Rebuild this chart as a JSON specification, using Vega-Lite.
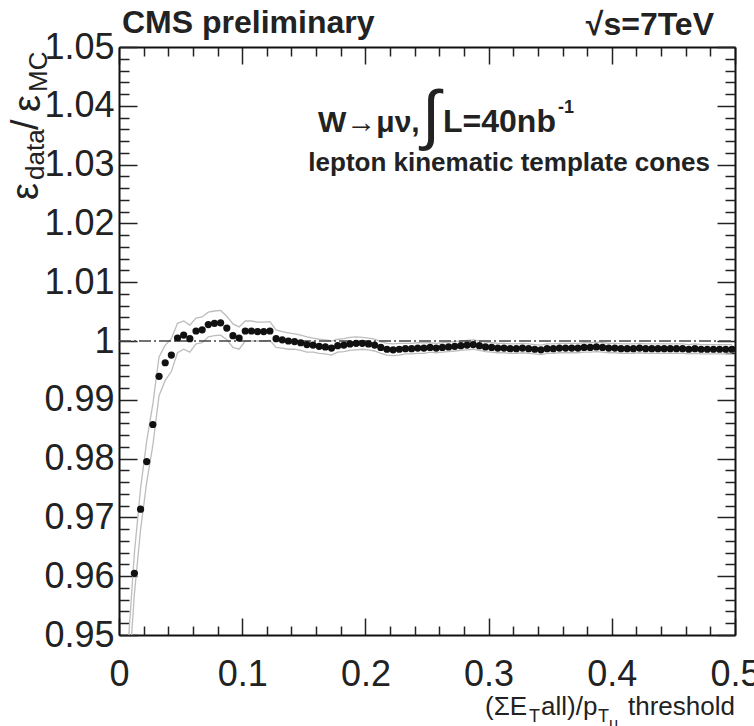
{
  "$schema": "https://vega.github.io/schema/vega-lite/v6.json",
  "width": 616,
  "height": 588,
  "autosize": {"type": "none"},
  "padding": {"left": 119, "top": 47, "right": 19, "bottom": 91},
  "background": "white",
  "config": {
    "view": {"stroke": null},
    "font": "Liberation Sans",
    "axis": {
      "grid": false,
      "title": null,
      "labelFont": "Liberation Sans",
      "labelFontSize": 36,
      "labelColor": "#222222",
      "tickColor": "#222222",
      "tickWidth": 1.5,
      "domainColor": "#111111",
      "domainWidth": 2,
      "labelBound": false,
      "labelFlush": false,
      "labelOverlap": false,
      "format": "~g"
    }
  },
  "datasets": {
    "pts": [
      {"x": 0.0075, "y": 0.9450, "lo": 0.9415, "hi": 0.9485},
      {"x": 0.0125, "y": 0.9605, "lo": 0.9570, "hi": 0.9640},
      {"x": 0.0175, "y": 0.9714, "lo": 0.9679, "hi": 0.9749},
      {"x": 0.0225, "y": 0.9795, "lo": 0.9760, "hi": 0.9830},
      {"x": 0.0275, "y": 0.9858, "lo": 0.9823, "hi": 0.9893},
      {"x": 0.0325, "y": 0.9940, "lo": 0.9907, "hi": 0.9973},
      {"x": 0.0375, "y": 0.9963, "lo": 0.9933, "hi": 0.9993},
      {"x": 0.0425, "y": 0.9976, "lo": 0.9948, "hi": 1.0004},
      {"x": 0.0475, "y": 1.0005, "lo": 0.9980, "hi": 1.0030},
      {"x": 0.0525, "y": 1.0010, "lo": 0.9986, "hi": 1.0034},
      {"x": 0.0575, "y": 1.0004, "lo": 0.9981, "hi": 1.0027},
      {"x": 0.0625, "y": 1.0017, "lo": 0.9995, "hi": 1.0039},
      {"x": 0.0675, "y": 1.0019, "lo": 0.9997, "hi": 1.0041},
      {"x": 0.0725, "y": 1.0028, "lo": 1.0007, "hi": 1.0049},
      {"x": 0.0775, "y": 1.0030, "lo": 1.0009, "hi": 1.0051},
      {"x": 0.0825, "y": 1.0031, "lo": 1.0010, "hi": 1.0052},
      {"x": 0.0875, "y": 1.0022, "lo": 1.0002, "hi": 1.0042},
      {"x": 0.0925, "y": 1.0009, "lo": 0.9989, "hi": 1.0029},
      {"x": 0.0975, "y": 1.0005, "lo": 0.9986, "hi": 1.0024},
      {"x": 0.1025, "y": 1.0017, "lo": 1.0000, "hi": 1.0034},
      {"x": 0.1075, "y": 1.0017, "lo": 1.0000, "hi": 1.0034},
      {"x": 0.1125, "y": 1.0016, "lo": 1.0000, "hi": 1.0032},
      {"x": 0.1175, "y": 1.0016, "lo": 1.0000, "hi": 1.0032},
      {"x": 0.1225, "y": 1.0017, "lo": 1.0001, "hi": 1.0033},
      {"x": 0.1275, "y": 1.0004, "lo": 0.9989, "hi": 1.0019},
      {"x": 0.1325, "y": 1.0002, "lo": 0.9988, "hi": 1.0016},
      {"x": 0.1375, "y": 1.0000, "lo": 0.9986, "hi": 1.0014},
      {"x": 0.1425, "y": 0.9999, "lo": 0.9986, "hi": 1.0012},
      {"x": 0.1475, "y": 0.9997, "lo": 0.9984, "hi": 1.0010},
      {"x": 0.1525, "y": 0.9994, "lo": 0.9981, "hi": 1.0007},
      {"x": 0.1575, "y": 0.9993, "lo": 0.9981, "hi": 1.0005},
      {"x": 0.1625, "y": 0.9991, "lo": 0.9979, "hi": 1.0003},
      {"x": 0.1675, "y": 0.9990, "lo": 0.9978, "hi": 1.0002},
      {"x": 0.1725, "y": 0.9988, "lo": 0.9976, "hi": 1.0000},
      {"x": 0.1775, "y": 0.9992, "lo": 0.9981, "hi": 1.0003},
      {"x": 0.1825, "y": 0.9993, "lo": 0.9982, "hi": 1.0004},
      {"x": 0.1875, "y": 0.9995, "lo": 0.9984, "hi": 1.0006},
      {"x": 0.1925, "y": 0.9996, "lo": 0.9985, "hi": 1.0007},
      {"x": 0.1975, "y": 0.9996, "lo": 0.9986, "hi": 1.0006},
      {"x": 0.2025, "y": 0.9995, "lo": 0.9985, "hi": 1.0005},
      {"x": 0.2075, "y": 0.9993, "lo": 0.9983, "hi": 1.0003},
      {"x": 0.2125, "y": 0.9989, "lo": 0.9979, "hi": 0.9999},
      {"x": 0.2175, "y": 0.9986, "lo": 0.9976, "hi": 0.9996},
      {"x": 0.2225, "y": 0.9985, "lo": 0.9975, "hi": 0.9995},
      {"x": 0.2275, "y": 0.9986, "lo": 0.9976, "hi": 0.9996},
      {"x": 0.2325, "y": 0.9987, "lo": 0.9978, "hi": 0.9996},
      {"x": 0.2375, "y": 0.9987, "lo": 0.9978, "hi": 0.9996},
      {"x": 0.2425, "y": 0.9988, "lo": 0.9979, "hi": 0.9997},
      {"x": 0.2475, "y": 0.9988, "lo": 0.9979, "hi": 0.9997},
      {"x": 0.2525, "y": 0.9989, "lo": 0.9981, "hi": 0.9997},
      {"x": 0.2575, "y": 0.9988, "lo": 0.9980, "hi": 0.9996},
      {"x": 0.2625, "y": 0.9989, "lo": 0.9981, "hi": 0.9997},
      {"x": 0.2675, "y": 0.9990, "lo": 0.9982, "hi": 0.9998},
      {"x": 0.2725, "y": 0.9991, "lo": 0.9983, "hi": 0.9999},
      {"x": 0.2775, "y": 0.9992, "lo": 0.9984, "hi": 1.0000},
      {"x": 0.2825, "y": 0.9993, "lo": 0.9985, "hi": 1.0001},
      {"x": 0.2875, "y": 0.9994, "lo": 0.9986, "hi": 1.0002},
      {"x": 0.2925, "y": 0.9992, "lo": 0.9984, "hi": 1.0000},
      {"x": 0.2975, "y": 0.9990, "lo": 0.9982, "hi": 0.9998},
      {"x": 0.3025, "y": 0.9989, "lo": 0.9981, "hi": 0.9997},
      {"x": 0.3075, "y": 0.9988, "lo": 0.9980, "hi": 0.9996},
      {"x": 0.3125, "y": 0.9988, "lo": 0.9980, "hi": 0.9996},
      {"x": 0.3175, "y": 0.9987, "lo": 0.9979, "hi": 0.9995},
      {"x": 0.3225, "y": 0.9987, "lo": 0.9979, "hi": 0.9995},
      {"x": 0.3275, "y": 0.9988, "lo": 0.9980, "hi": 0.9996},
      {"x": 0.3325, "y": 0.9987, "lo": 0.9979, "hi": 0.9995},
      {"x": 0.3375, "y": 0.9986, "lo": 0.9978, "hi": 0.9994},
      {"x": 0.3425, "y": 0.9985, "lo": 0.9977, "hi": 0.9993},
      {"x": 0.3475, "y": 0.9987, "lo": 0.9979, "hi": 0.9995},
      {"x": 0.3525, "y": 0.9987, "lo": 0.9979, "hi": 0.9995},
      {"x": 0.3575, "y": 0.9988, "lo": 0.9980, "hi": 0.9996},
      {"x": 0.3625, "y": 0.9988, "lo": 0.9980, "hi": 0.9996},
      {"x": 0.3675, "y": 0.9988, "lo": 0.9980, "hi": 0.9996},
      {"x": 0.3725, "y": 0.9988, "lo": 0.9980, "hi": 0.9996},
      {"x": 0.3775, "y": 0.9989, "lo": 0.9981, "hi": 0.9997},
      {"x": 0.3825, "y": 0.9989, "lo": 0.9981, "hi": 0.9997},
      {"x": 0.3875, "y": 0.9990, "lo": 0.9982, "hi": 0.9998},
      {"x": 0.3925, "y": 0.9989, "lo": 0.9981, "hi": 0.9997},
      {"x": 0.3975, "y": 0.9988, "lo": 0.9980, "hi": 0.9996},
      {"x": 0.4025, "y": 0.9988, "lo": 0.9980, "hi": 0.9996},
      {"x": 0.4075, "y": 0.9987, "lo": 0.9979, "hi": 0.9995},
      {"x": 0.4125, "y": 0.9987, "lo": 0.9979, "hi": 0.9995},
      {"x": 0.4175, "y": 0.9987, "lo": 0.9979, "hi": 0.9995},
      {"x": 0.4225, "y": 0.9988, "lo": 0.9980, "hi": 0.9996},
      {"x": 0.4275, "y": 0.9987, "lo": 0.9979, "hi": 0.9995},
      {"x": 0.4325, "y": 0.9987, "lo": 0.9979, "hi": 0.9995},
      {"x": 0.4375, "y": 0.9987, "lo": 0.9979, "hi": 0.9995},
      {"x": 0.4425, "y": 0.9987, "lo": 0.9979, "hi": 0.9995},
      {"x": 0.4475, "y": 0.9987, "lo": 0.9979, "hi": 0.9995},
      {"x": 0.4525, "y": 0.9987, "lo": 0.9979, "hi": 0.9995},
      {"x": 0.4575, "y": 0.9987, "lo": 0.9979, "hi": 0.9995},
      {"x": 0.4625, "y": 0.9986, "lo": 0.9978, "hi": 0.9994},
      {"x": 0.4675, "y": 0.9987, "lo": 0.9979, "hi": 0.9995},
      {"x": 0.4725, "y": 0.9986, "lo": 0.9978, "hi": 0.9994},
      {"x": 0.4775, "y": 0.9986, "lo": 0.9978, "hi": 0.9994},
      {"x": 0.4825, "y": 0.9986, "lo": 0.9978, "hi": 0.9994},
      {"x": 0.4875, "y": 0.9986, "lo": 0.9978, "hi": 0.9994},
      {"x": 0.4925, "y": 0.9986, "lo": 0.9978, "hi": 0.9994},
      {"x": 0.4975, "y": 0.9986, "lo": 0.9978, "hi": 0.9994}
    ],
    "ref": [{"x": 0, "y": 1}, {"x": 0.5, "y": 1}],
    "one": [{}]
  },
  "layer": [
    {
      "data": {"name": "pts"},
      "mark": {"type": "line", "color": "#bdbdbd", "strokeWidth": 1.3, "clip": true},
      "encoding": {
        "x": {"field": "x", "type": "quantitative", "scale": {"domain": [0, 0.5], "nice": false, "zero": false},
              "axis": {"orient": "bottom", "values": [0, 0.1, 0.2, 0.3, 0.4, 0.5], "tickSize": -17, "labelPadding": 39, "domain": true}},
        "y": {"field": "hi", "type": "quantitative", "scale": {"domain": [0.95, 1.05], "nice": false, "zero": false},
              "axis": {"orient": "left", "values": [0.95, 0.96, 0.97, 0.98, 0.99, 1, 1.01, 1.02, 1.03, 1.04, 1.05], "tickSize": -18, "labelPadding": 23, "domain": true}}
      }
    },
    {
      "data": {"name": "pts"},
      "mark": {"type": "line", "color": "#bdbdbd", "strokeWidth": 1.3, "clip": true},
      "encoding": {
        "x": {"field": "x", "type": "quantitative", "scale": {"domain": [0, 0.5], "nice": false, "zero": false},
              "axis": {"orient": "top", "values": [0, 0.1, 0.2, 0.3, 0.4, 0.5], "tickSize": -17, "labels": false, "domain": true}},
        "y": {"field": "lo", "type": "quantitative", "scale": {"domain": [0.95, 1.05], "nice": false, "zero": false},
              "axis": {"orient": "right", "values": [0.95, 0.96, 0.97, 0.98, 0.99, 1, 1.01, 1.02, 1.03, 1.04, 1.05], "tickSize": -18, "labels": false, "domain": true}}
      }
    },
    {
      "data": {"name": "ref"},
      "mark": {"type": "line", "color": "#444444", "strokeWidth": 1.4, "strokeDash": [12, 3, 2, 3], "clip": true},
      "encoding": {
        "x": {"field": "x", "type": "quantitative", "scale": {"domain": [0, 0.5], "nice": false, "zero": false},
              "axis": {"orient": "bottom", "values": [0.02, 0.04, 0.06, 0.08, 0.12, 0.14, 0.16, 0.18, 0.22, 0.24, 0.26, 0.28, 0.32, 0.34, 0.36, 0.38, 0.42, 0.44, 0.46, 0.48], "tickSize": -9, "labels": false, "domain": false}},
        "y": {"field": "y", "type": "quantitative", "scale": {"domain": [0.95, 1.05], "nice": false, "zero": false},
              "axis": {"orient": "left", "values": [0.952, 0.954, 0.956, 0.958, 0.962, 0.964, 0.966, 0.968, 0.972, 0.974, 0.976, 0.978, 0.982, 0.984, 0.986, 0.988, 0.992, 0.994, 0.996, 0.998, 1.002, 1.004, 1.006, 1.008, 1.012, 1.014, 1.016, 1.018, 1.022, 1.024, 1.026, 1.028, 1.032, 1.034, 1.036, 1.038, 1.042, 1.044, 1.046, 1.048], "tickSize": -10, "labels": false, "domain": false}}
      }
    },
    {
      "data": {"name": "pts"},
      "mark": {"type": "circle", "color": "#111111", "opacity": 1, "size": 52, "clip": true},
      "encoding": {
        "x": {"field": "x", "type": "quantitative", "scale": {"domain": [0, 0.5], "nice": false, "zero": false},
              "axis": {"orient": "top", "values": [0.02, 0.04, 0.06, 0.08, 0.12, 0.14, 0.16, 0.18, 0.22, 0.24, 0.26, 0.28, 0.32, 0.34, 0.36, 0.38, 0.42, 0.44, 0.46, 0.48], "tickSize": -9, "labels": false, "domain": false}},
        "y": {"field": "y", "type": "quantitative", "scale": {"domain": [0.95, 1.05], "nice": false, "zero": false},
              "axis": {"orient": "right", "values": [0.952, 0.954, 0.956, 0.958, 0.962, 0.964, 0.966, 0.968, 0.972, 0.974, 0.976, 0.978, 0.982, 0.984, 0.986, 0.988, 0.992, 0.994, 0.996, 0.998, 1.002, 1.004, 1.006, 1.008, 1.012, 1.014, 1.016, 1.018, 1.022, 1.024, 1.026, 1.028, 1.032, 1.034, 1.036, 1.038, 1.042, 1.044, 1.046, 1.048], "tickSize": -10, "labels": false, "domain": false}}
      }
    },
    {
      "data": {"name": "one"},
      "mark": {"type": "text", "text": "CMS preliminary", "font": "Liberation Sans", "fontSize": 32, "fontWeight": "bold", "align": "left", "baseline": "alphabetic", "color": "#222222"},
      "encoding": {
        "x": {"datum": 0.00244, "type": "quantitative", "scale": {"domain": [0, 0.5], "nice": false, "zero": false}, "axis": null},
        "y": {"datum": 1.05238, "type": "quantitative", "scale": {"domain": [0.95, 1.05], "nice": false, "zero": false}, "axis": null}
      }
    },
    {
      "data": {"name": "one"},
      "mark": {"type": "text", "text": "√s=7TeV", "font": "Liberation Sans", "fontSize": 32, "fontWeight": "bold", "align": "right", "baseline": "alphabetic", "color": "#222222"},
      "encoding": {
        "x": {"datum": 0.48295, "type": "quantitative", "scale": {"domain": [0, 0.5], "nice": false, "zero": false}, "axis": null},
        "y": {"datum": 1.05204, "type": "quantitative", "scale": {"domain": [0.95, 1.05], "nice": false, "zero": false}, "axis": null}
      }
    },
    {
      "data": {"name": "one"},
      "mark": {"type": "text", "text": "W→μν,", "font": "Liberation Sans", "fontSize": 30, "fontWeight": "bold", "align": "left", "baseline": "alphabetic", "color": "#222222"},
      "encoding": {
        "x": {"datum": 0.16153, "type": "quantitative", "scale": {"domain": [0, 0.5], "nice": false, "zero": false}, "axis": null},
        "y": {"datum": 1.03554, "type": "quantitative", "scale": {"domain": [0.95, 1.05], "nice": false, "zero": false}, "axis": null}
      }
    },
    {
      "data": {"name": "one"},
      "mark": {"type": "text", "text": "∫", "font": "Liberation Sans", "fontSize": 66, "align": "left", "baseline": "alphabetic", "color": "#222222"},
      "encoding": {
        "x": {"datum": 0.24594, "type": "quantitative", "scale": {"domain": [0, 0.5], "nice": false, "zero": false}, "axis": null},
        "y": {"datum": 1.03469, "type": "quantitative", "scale": {"domain": [0.95, 1.05], "nice": false, "zero": false}, "axis": null}
      }
    },
    {
      "data": {"name": "one"},
      "mark": {"type": "text", "text": "L=40nb", "font": "Liberation Sans", "fontSize": 32, "fontWeight": "bold", "align": "left", "baseline": "alphabetic", "color": "#222222"},
      "encoding": {
        "x": {"datum": 0.26299, "type": "quantitative", "scale": {"domain": [0, 0.5], "nice": false, "zero": false}, "axis": null},
        "y": {"datum": 1.03554, "type": "quantitative", "scale": {"domain": [0.95, 1.05], "nice": false, "zero": false}, "axis": null}
      }
    },
    {
      "data": {"name": "one"},
      "mark": {"type": "text", "text": "-1", "font": "Liberation Sans", "fontSize": 18, "fontWeight": "bold", "align": "left", "baseline": "alphabetic", "color": "#222222"},
      "encoding": {
        "x": {"datum": 0.35633, "type": "quantitative", "scale": {"domain": [0, 0.5], "nice": false, "zero": false}, "axis": null},
        "y": {"datum": 1.03878, "type": "quantitative", "scale": {"domain": [0.95, 1.05], "nice": false, "zero": false}, "axis": null}
      }
    },
    {
      "data": {"name": "one"},
      "mark": {"type": "text", "text": "lepton kinematic template cones", "font": "Liberation Sans", "fontSize": 26, "fontWeight": "bold", "align": "right", "baseline": "alphabetic", "color": "#222222"},
      "encoding": {
        "x": {"datum": 0.47971, "type": "quantitative", "scale": {"domain": [0, 0.5], "nice": false, "zero": false}, "axis": null},
        "y": {"datum": 1.02891, "type": "quantitative", "scale": {"domain": [0.95, 1.05], "nice": false, "zero": false}, "axis": null}
      }
    },
    {
      "data": {"name": "one"},
      "mark": {"type": "text", "text": "ε", "font": "Liberation Sans", "fontSize": 38, "angle": 270, "align": "left", "baseline": "alphabetic", "color": "#222222"},
      "encoding": {
        "x": {"datum": -0.06575, "type": "quantitative", "scale": {"domain": [0, 0.5], "nice": false, "zero": false}, "axis": null},
        "y": {"datum": 1.02398, "type": "quantitative", "scale": {"domain": [0.95, 1.05], "nice": false, "zero": false}, "axis": null}
      }
    },
    {
      "data": {"name": "one"},
      "mark": {"type": "text", "text": "data", "font": "Liberation Sans", "fontSize": 26, "angle": 270, "align": "left", "baseline": "alphabetic", "color": "#222222"},
      "encoding": {
        "x": {"datum": -0.06088, "type": "quantitative", "scale": {"domain": [0, 0.5], "nice": false, "zero": false}, "axis": null},
        "y": {"datum": 1.02738, "type": "quantitative", "scale": {"domain": [0.95, 1.05], "nice": false, "zero": false}, "axis": null}
      }
    },
    {
      "data": {"name": "one"},
      "mark": {"type": "text", "text": "/", "font": "Liberation Sans", "fontSize": 38, "angle": 270, "align": "left", "baseline": "alphabetic", "color": "#222222"},
      "encoding": {
        "x": {"datum": -0.06575, "type": "quantitative", "scale": {"domain": [0, 0.5], "nice": false, "zero": false}, "axis": null},
        "y": {"datum": 1.03588, "type": "quantitative", "scale": {"domain": [0.95, 1.05], "nice": false, "zero": false}, "axis": null}
      }
    },
    {
      "data": {"name": "one"},
      "mark": {"type": "text", "text": "ε", "font": "Liberation Sans", "fontSize": 38, "angle": 270, "align": "left", "baseline": "alphabetic", "color": "#222222"},
      "encoding": {
        "x": {"datum": -0.06412, "type": "quantitative", "scale": {"domain": [0, 0.5], "nice": false, "zero": false}, "axis": null},
        "y": {"datum": 1.03895, "type": "quantitative", "scale": {"domain": [0.95, 1.05], "nice": false, "zero": false}, "axis": null}
      }
    },
    {
      "data": {"name": "one"},
      "mark": {"type": "text", "text": "MC", "font": "Liberation Sans", "fontSize": 26, "angle": 270, "align": "left", "baseline": "alphabetic", "color": "#222222"},
      "encoding": {
        "x": {"datum": -0.05844, "type": "quantitative", "scale": {"domain": [0, 0.5], "nice": false, "zero": false}, "axis": null},
        "y": {"datum": 1.04235, "type": "quantitative", "scale": {"domain": [0.95, 1.05], "nice": false, "zero": false}, "axis": null}
      }
    },
    {
      "data": {"name": "one"},
      "mark": {"type": "text", "text": "(ΣE", "font": "Liberation Sans", "fontSize": 26, "align": "left", "baseline": "alphabetic", "color": "#222222"},
      "encoding": {
        "x": {"datum": 0.29708, "type": "quantitative", "scale": {"domain": [0, 0.5], "nice": false, "zero": false}, "axis": null},
        "y": {"datum": 0.93639, "type": "quantitative", "scale": {"domain": [0.95, 1.05], "nice": false, "zero": false}, "axis": null}
      }
    },
    {
      "data": {"name": "one"},
      "mark": {"type": "text", "text": "T", "font": "Liberation Sans", "fontSize": 18, "align": "left", "baseline": "alphabetic", "color": "#222222"},
      "encoding": {
        "x": {"datum": 0.33279, "type": "quantitative", "scale": {"domain": [0, 0.5], "nice": false, "zero": false}, "axis": null},
        "y": {"datum": 0.9352, "type": "quantitative", "scale": {"domain": [0.95, 1.05], "nice": false, "zero": false}, "axis": null}
      }
    },
    {
      "data": {"name": "one"},
      "mark": {"type": "text", "text": "all)/p", "font": "Liberation Sans", "fontSize": 26, "align": "left", "baseline": "alphabetic", "color": "#222222"},
      "encoding": {
        "x": {"datum": 0.34253, "type": "quantitative", "scale": {"domain": [0, 0.5], "nice": false, "zero": false}, "axis": null},
        "y": {"datum": 0.93639, "type": "quantitative", "scale": {"domain": [0.95, 1.05], "nice": false, "zero": false}, "axis": null}
      }
    },
    {
      "data": {"name": "one"},
      "mark": {"type": "text", "text": "T", "font": "Liberation Sans", "fontSize": 18, "align": "left", "baseline": "alphabetic", "color": "#222222"},
      "encoding": {
        "x": {"datum": 0.3888, "type": "quantitative", "scale": {"domain": [0, 0.5], "nice": false, "zero": false}, "axis": null},
        "y": {"datum": 0.9352, "type": "quantitative", "scale": {"domain": [0.95, 1.05], "nice": false, "zero": false}, "axis": null}
      }
    },
    {
      "data": {"name": "one"},
      "mark": {"type": "text", "text": "μ", "font": "Liberation Sans", "fontSize": 16, "align": "left", "baseline": "alphabetic", "color": "#222222"},
      "encoding": {
        "x": {"datum": 0.39773, "type": "quantitative", "scale": {"domain": [0, 0.5], "nice": false, "zero": false}, "axis": null},
        "y": {"datum": 0.93401, "type": "quantitative", "scale": {"domain": [0.95, 1.05], "nice": false, "zero": false}, "axis": null}
      }
    },
    {
      "data": {"name": "one"},
      "mark": {"type": "text", "text": "threshold", "font": "Liberation Sans", "fontSize": 26, "align": "right", "baseline": "alphabetic", "color": "#222222"},
      "encoding": {
        "x": {"datum": 0.5, "type": "quantitative", "scale": {"domain": [0, 0.5], "nice": false, "zero": false}, "axis": null},
        "y": {"datum": 0.93639, "type": "quantitative", "scale": {"domain": [0.95, 1.05], "nice": false, "zero": false}, "axis": null}
      }
    }
  ],
  "resolve": {"axis": {"x": "independent", "y": "independent"}}
}
